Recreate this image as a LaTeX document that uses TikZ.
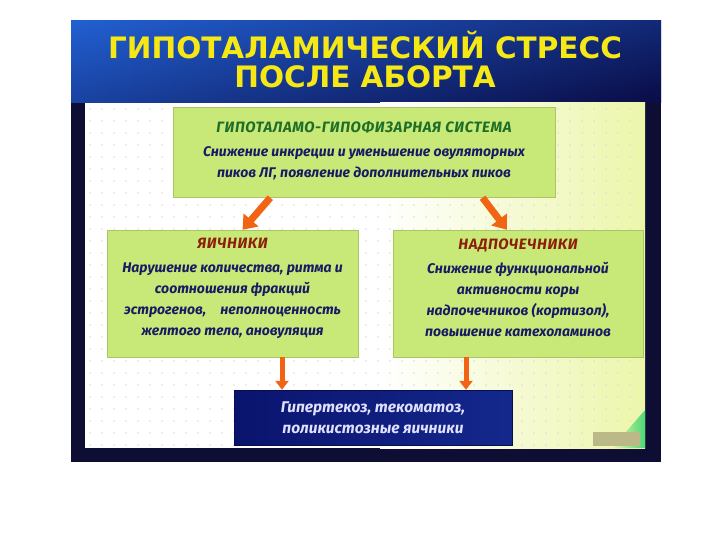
\documentclass[tikz,border=0pt]{standalone}
\usepackage{fontspec}
\setmainfont{Fira Sans}
\newfontfamily\titlefam{DejaVu Sans}
\usetikzlibrary{arrows.meta,calc}
\definecolor{framenavy}{RGB}{14,14,52}
\definecolor{titleL}{RGB}{34,96,210}
\definecolor{titleR}{RGB}{10,12,70}
\definecolor{paleyg}{RGB}{236,246,170}
\definecolor{boxgreen}{RGB}{200,232,120}
\definecolor{hgreen}{RGB}{30,110,40}
\definecolor{hred}{RGB}{140,30,10}
\definecolor{bodynavy}{RGB}{26,26,100}
\definecolor{arroworange}{RGB}{240,100,20}
\definecolor{bnavyL}{RGB}{10,20,110}
\definecolor{bnavyR}{RGB}{20,40,140}
\definecolor{titleyellow}{RGB}{245,232,20}
\newcommand{\boxhead}[2]{{\color{#1}\fontsize{15}{21}\selectfont\addfontfeature{LetterSpace=4}#2}}
\tikzset{
  gbox/.style={rectangle, fill=boxgreen, draw=boxgreen!85!black, line width=0.4pt},
  btext/.style={align=center, text=bodynavy, font=\fontsize{14}{21}\selectfont\bfseries\itshape},
  oarrow/.style={draw=arroworange, line width=7pt, -{Triangle[width=19pt,length=13pt]}},
  varrow/.style={draw=arroworange, line width=5pt, -{Triangle[width=13pt,length=9pt]}},
  titlefont/.style={font=\titlefam\fontsize{29.5}{29.5}\selectfont\bfseries, align=center}
}
\begin{document}
\begin{tikzpicture}[x=1pt,y=-1pt]
\useasboundingbox (0,0) rectangle (720,540);
\fill[white] (0,0) rectangle (720,540);
% slide frame
\fill[framenavy] (71,21) rectangle (661,462);
% title band
\shade[left color=titleL, right color=titleR] (71,21) rectangle (661,103);
\shade[top color=titleL, bottom color=titleR, opacity=0.35] (71,21) rectangle (661,103);
% content area
\fill[white] (85,103) rectangle (645,448);
\shade[left color=white, right color=paleyg] (380,103) rectangle (645,448);
\foreach \x in {90,102,...,640} {
  \foreach \y in {109,121,...,445} {
    \fill[gray!28] (\x,\y) circle (0.8);
  }
}
% corner patch
\shade[left color=paleyg, right color=green!55!teal!70] (612,448) -- (645,448) -- (645,410) -- cycle;
\fill[gray!55!olive!60] (593,432) rectangle (640,446);
% title
\node[titlefont, text=titleyellow] (title) at (365,59.5) {ГИПОТАЛАМИЧЕСКИЙ СТРЕСС\\ПОСЛЕ АБОРТА};
% boxes
\node[gbox, minimum width=382pt, minimum height=90pt] (top) at (364,152.5) {};
\node[btext] (toptext) at (364,151) {\boxhead{hgreen}{ГИПОТАЛАМО-ГИПОФИЗАРНАЯ СИСТЕМА}\\[3pt]Снижение инкреции и уменьшение овуляторных\\пиков ЛГ, появление дополнительных пиков};
\node[gbox, minimum width=251pt, minimum height=127pt] (lbox) at (232.5,293.5) {};
\node[btext] (ltext) at (232.5,288) {\boxhead{hred}{ЯИЧНИКИ}\\[3pt]Нарушение количества, ритма и\\соотношения фракций\\эстрогенов,\quad неполноценность\\желтого тела, ановуляция};
\node[gbox, minimum width=250pt, minimum height=127pt] (rbox) at (518,293.5) {};
\node[btext] (rtext) at (518,288) {\boxhead{hred}{НАДПОЧЕЧНИКИ}\\[3pt]Снижение функциональной\\активности коры\\надпочечников (кортизол),\\повышение катехоламинов};
\node[rectangle, left color=bnavyL, right color=bnavyR, draw=bnavyL!70!black, minimum width=278pt, minimum height=55pt, align=center, text=white!88!blue, font=\fontsize{15.5}{21}\selectfont\bfseries\itshape] (bbox) at (373,417.5) {Гипертекоз, текоматоз,\\поликистозные яичники};
% arrows
\coordinate (a1s) at ($(top.south west)!0.255!(top.south east)$);
\coordinate (a1e) at ($(lbox.north west)!0.54!(lbox.north east)$);
\coordinate (a2s) at ($(top.south west)!0.81!(top.south east)$);
\coordinate (a2e) at ($(rbox.north west)!0.456!(rbox.north east)$);
\draw[oarrow] (a1s) -- (a1e);
\draw[oarrow] (a2s) -- (a2e);
\coordinate (lx) at (282,0);
\coordinate (rx) at (466,0);
\draw[varrow] (lbox.south -| lx) -- (bbox.north -| lx);
\draw[varrow] (rbox.south -| rx) -- (bbox.north -| rx);
\end{tikzpicture}
\end{document}
